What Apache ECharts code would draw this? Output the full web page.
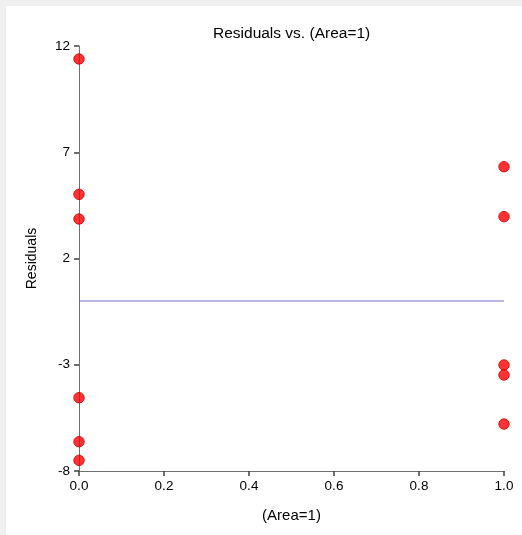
<!DOCTYPE html>
<html>
<head>
<meta charset="utf-8">
<script src="https://cdn.jsdelivr.net/npm/echarts@6/dist/echarts.min.js"></script>
<style>
  html, body { margin: 0; padding: 0; background: #f0f0f0; width: 522px; height: 535px; overflow: hidden; }
  #chart { position: absolute; left: 6px; top: 6px; width: 516px; height: 529px; background: #ffffff; }
</style>
</head>
<body>
<div id="chart"></div>
<script>
// Data
var areaValues = [0, 0, 0, 0, 0, 0, 1, 1, 1, 1, 1];
var residuals = [11.39, 5.02, 3.86, -4.55, -6.62, -7.5, 6.32, 3.97, -3.01, -3.48, -5.79];
var refLineX = [0, 1];
var refLineY = [0, 0];
var yTickStep = 5;
var xTickStep = 0.2;

var points = areaValues.map(function (x, i) { return [x, residuals[i]]; });
var refLine = refLineX.map(function (x, i) { return [x, refLineY[i]]; });

var chart = echarts.init(document.getElementById('chart'), null, { renderer: 'canvas' });
var font = 'Arial, "Liberation Sans", sans-serif';
var axisColor = '#707070';

chart.setOption({
  animation: false,
  backgroundColor: '#ffffff',
  title: {
    text: 'Residuals vs. (Area=1)',
    left: 202,
    top: 15,
    textStyle: { fontFamily: font, fontSize: 15.5, fontWeight: 'normal', color: '#000000' }
  },
  grid: { left: 73, top: 40, width: 425, height: 425, containLabel: false },
  xAxis: {
    type: 'value',
    min: 0,
    max: 1,
    interval: xTickStep,
    name: '(Area=1)',
    nameLocation: 'middle',
    nameGap: 37,
    nameTextStyle: { fontFamily: font, fontSize: 15, color: '#000000' },
    axisLine: { show: true, onZero: false, lineStyle: { color: axisColor, width: 1 } },
    axisTick: { show: true, length: 5, lineStyle: { color: '#404040', width: 1.5 } },
    axisLabel: {
      show: true,
      margin: 8,
      fontFamily: font, fontSize: 13.5, color: '#000000',
      formatter: function (v) { return Number(v).toFixed(1); }
    },
    splitLine: { show: false }
  },
  yAxis: {
    type: 'value',
    min: -8,
    max: 12,
    interval: yTickStep,
    name: 'Residuals',
    nameLocation: 'middle',
    nameRotate: 90,
    nameGap: 40,
    nameTextStyle: { fontFamily: font, fontSize: 14, color: '#000000' },
    axisLine: { show: true, onZero: false, lineStyle: { color: axisColor, width: 1 } },
    axisTick: { show: true, length: 5, lineStyle: { color: '#404040', width: 1.5 } },
    axisLabel: { show: true, margin: 9, fontFamily: font, fontSize: 13.5, color: '#000000' },
    splitLine: { show: false }
  },
  series: [
    {
      type: 'line',
      data: refLine,
      symbol: 'none',
      lineStyle: { color: '#7070c0', width: 1 },
      z: 2
    },
    {
      type: 'scatter',
      data: points,
      symbol: 'circle',
      symbolSize: 10.5,
      itemStyle: { color: '#ff0000', borderColor: '#cc0000', borderWidth: 1 },
      clip: false,
      z: 5
    }
  ]
});
</script>
</body>
</html>
